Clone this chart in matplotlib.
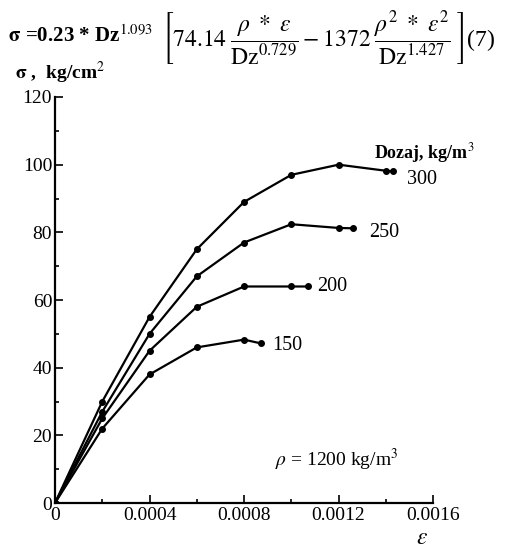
import matplotlib
matplotlib.use("Agg")
import matplotlib.pyplot as plt
from matplotlib.ticker import MultipleLocator, FixedLocator

plt.rcParams['font.family'] = ['Liberation Serif', 'DejaVu Serif']
plt.rcParams['mathtext.fontset'] = 'stix'

# strain values and stress readings (kg/cm2) for each dosage
eps_300 = [0, 0.0002, 0.0004, 0.0006, 0.0008, 0.0010, 0.0012, 0.00140, 0.00143]
sig_300 = [0, 30, 55, 75, 89, 97, 100, 98.2, 98]
eps_250 = [0, 0.0002, 0.0004, 0.0006, 0.0008, 0.0010, 0.0012, 0.00126]
sig_250 = [0, 27, 50, 67, 77, 82.4, 81.3, 81.2]
eps_200 = [0, 0.0002, 0.0004, 0.0006, 0.0008, 0.0010, 0.00107]
sig_200 = [0, 25, 45, 58, 64, 64, 64]
eps_150 = [0, 0.0002, 0.0004, 0.0006, 0.0008, 0.00087]
sig_150 = [0, 22, 38, 46, 48.3, 47.2]

series = [(eps_300, sig_300, "300"), (eps_250, sig_250, "250"),
          (eps_200, sig_200, "200"), (eps_150, sig_150, "150")]
label_pos = {"300": (0.00149, 95.5), "250": (0.00133, 80), "200": (0.00111, 64), "150": (0.00092, 46.5)}

x_ticks = [0, 0.0004, 0.0008, 0.0012, 0.0016]
x_labels = ["0", "0.0004", "0.0008", "0.0012", "0.0016"]

fig = plt.figure(figsize=(5.09, 5.48), dpi=100)
ax = fig.add_axes([0.108, 0.082, 0.743, 0.741])

for eps, sig, name in series:
    ax.plot(eps, sig, color='black', lw=1.6, marker='o', ms=4, mfc='black')
    lx, ly = label_pos[name]
    ax.text(lx, ly, name, fontsize=14.5, va='center', ha='left')

ax.set_xlim(0, 0.0016)
ax.set_ylim(0, 120)
ax.xaxis.set_major_locator(FixedLocator(x_ticks))
ax.set_xticklabels(x_labels)
ax.xaxis.set_minor_locator(MultipleLocator(0.0002))
ax.yaxis.set_major_locator(MultipleLocator(20))
ax.yaxis.set_minor_locator(MultipleLocator(10))
ax.tick_params(which='both', direction='in', labelsize=14, width=1.2)
ax.tick_params(which='major', length=6)
ax.tick_params(axis='x', pad=3)
ax.tick_params(axis='y', pad=2)
ax.tick_params(which='minor', length=3)
for s in ['top', 'right']:
    ax.spines[s].set_visible(False)
for s in ['left', 'bottom']:
    ax.spines[s].set_linewidth(1.6)

ax.text(0.00135, 103.4, "Dozaj, kg/m$^3$", fontsize=13, weight='bold', ha='left', va='center')
ax.text(0.00093, 11, r"$\rho$ = 1200 kg/m$^3$", fontsize=14, ha='left')

fig.text(0.818, 0.008, r"$\varepsilon$", fontsize=17)
fig.text(0.03, 0.866, r"$\mathbf{\sigma}$ ,  kg/cm$^2$", fontsize=14, weight='bold', va='center')

formula_left = r"$\mathbf{\sigma}$ =0.23 * Dz$^{1.093}$"
formula_right = (r"$\left[\mathrm{74.14}\;\dfrac{\rho\ *\ \varepsilon}{\mathrm{Dz}^{0.729}}"
                 r" - \mathrm{1372}\;\dfrac{\rho^2\ *\ \varepsilon^2}{\mathrm{Dz}^{1.427}}\;\right]$(7)")
fig.text(0.015, 0.934, formula_left, fontsize=15, weight='bold', va='center')
fig.text(0.318, 0.930, formula_right, fontsize=17, va='center')

fig.savefig("out.png", dpi=100)
